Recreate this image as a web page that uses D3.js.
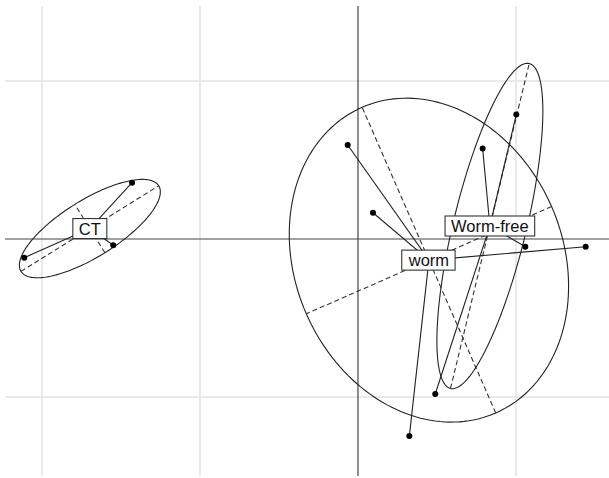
<!DOCTYPE html>
<html lang="en">
<head>
  <meta charset="UTF-8">
  <title>s.class</title>
  <script src="https://d3js.org/d3.v7.min.js"></script>
  <style>
    body { margin: 0; background: #fff; }
    .grid { stroke: #e3e3e3; stroke-width: 1.5; }
    .axis0 { stroke: #444; stroke-width: 1.2; }
    .ell { fill: none; stroke: #222; stroke-width: 1.1; }
    .ax { stroke: #333; stroke-width: 1.1; stroke-dasharray: 5 3; }
    .star { stroke: #222; stroke-width: 1.1; }
    .lab text { font-family: "Liberation Sans", Arial, sans-serif; font-size: 16.5px; fill: #111; }
    .lab rect { fill: #fff; stroke: #333; stroke-width: 1.1; }
  </style>
</head>
<body>
  <svg></svg>
  <script>
    // rows scores, one group per point
    const pointX = [-1.430, -2.112, -1.549, -0.065, 0.095, 1.441, 0.325, 0.789, 1.059, 0.489, 1.002];
    const pointY = [0.356, -0.118, -0.040, 0.595, 0.166, -0.049, -1.247, 0.572, -0.049, -0.981, 0.787];
    const pointGroup = ["CT", "CT", "CT", "worm", "worm", "worm", "worm",
      "Worm-free", "Worm-free", "Worm-free", "Worm-free"];
    const groups = ["CT", "worm", "Worm-free"];
    const gridX = [-2, -1, 1];
    const gridY = [-1, 1];
    const cellipse = 1.5;

    const width = 609, height = 478;

    const x = d3.scaleLinear().domain([-2.234, 1.595]).range([5, 610]);
    const y = d3.scaleLinear().domain([-1.506, 1.487]).range([477, 4]);

    const svg = d3.select("svg")
      .attr("width", width)
      .attr("height", height);

    // grid
    svg.append("g").selectAll("line").data(gridX).enter().append("line")
      .attr("class", "grid")
      .attr("x1", d => x(d)).attr("x2", d => x(d))
      .attr("y1", 6).attr("y2", 476);
    svg.append("g").selectAll("line").data(gridY).enter().append("line")
      .attr("class", "grid")
      .attr("y1", d => y(d)).attr("y2", d => y(d))
      .attr("x1", 5).attr("x2", 609);

    // axes through origin
    svg.append("line").attr("class", "axis0")
      .attr("x1", 5).attr("x2", 609).attr("y1", y(0)).attr("y2", y(0));
    svg.append("line").attr("class", "axis0")
      .attr("x1", x(0)).attr("x2", x(0)).attr("y1", 6).attr("y2", 476);

    const pts = pointX.map((v, i) => ({ x: v, y: pointY[i], g: pointGroup[i] }));

    // centroid + covariance ellipse for each group
    const stats = groups.map(g => {
      const p = pts.filter(d => d.g === g);
      const mx = d3.mean(p, d => d.x), my = d3.mean(p, d => d.y);
      const vx = d3.mean(p, d => (d.x - mx) ** 2);
      const vy = d3.mean(p, d => (d.y - my) ** 2);
      const cxy = d3.mean(p, d => (d.x - mx) * (d.y - my));
      const tr = vx + vy, det = vx * vy - cxy * cxy;
      const disc = Math.sqrt(Math.max(tr * tr / 4 - det, 0));
      const l1 = tr / 2 + disc, l2 = tr / 2 - disc;
      let ang = Math.abs(cxy) < 1e-12 ? (vx >= vy ? 0 : Math.PI / 2) : Math.atan2(l1 - vx, cxy);
      const a = cellipse * Math.sqrt(l1), b = cellipse * Math.sqrt(Math.max(l2, 0));
      return { g, mx, my, a, b, ang };
    });

    const ellG = svg.append("g");
    stats.forEach(s => {
      const c = Math.cos(s.ang), sn = Math.sin(s.ang);
      const ring = d3.range(0, 361, 2).map(t => {
        const r = t * Math.PI / 180;
        const u = s.a * Math.cos(r), v = s.b * Math.sin(r);
        return [x(s.mx + u * c - v * sn), y(s.my + u * sn + v * c)];
      });
      ellG.append("path").attr("class", "ell")
        .attr("d", d3.line()(ring) + "Z");
      // principal axes, dashed
      ellG.append("line").attr("class", "ax")
        .attr("x1", x(s.mx - s.a * c)).attr("y1", y(s.my - s.a * sn))
        .attr("x2", x(s.mx + s.a * c)).attr("y2", y(s.my + s.a * sn));
      ellG.append("line").attr("class", "ax")
        .attr("x1", x(s.mx + s.b * sn)).attr("y1", y(s.my - s.b * c))
        .attr("x2", x(s.mx - s.b * sn)).attr("y2", y(s.my + s.b * c));
    });

    // stars
    const cen = {};
    stats.forEach(s => cen[s.g] = s);
    svg.append("g").selectAll("line").data(pts).enter().append("line")
      .attr("class", "star")
      .attr("x1", d => x(cen[d.g].mx)).attr("y1", d => y(cen[d.g].my))
      .attr("x2", d => x(d.x)).attr("y2", d => y(d.y));

    svg.append("g").selectAll("circle").data(pts).enter().append("circle")
      .attr("cx", d => x(d.x)).attr("cy", d => y(d.y))
      .attr("r", 3).attr("fill", "#000");

    // labels at centroids
    const lab = svg.append("g").attr("class", "lab").selectAll("g")
      .data(stats).enter().append("g")
      .attr("transform", d => `translate(${x(d.mx)},${y(d.my)})`);
    lab.append("text")
      .attr("text-anchor", "middle")
      .attr("dy", "0.36em")
      .text(d => d.g);
    lab.each(function () {
      const t = d3.select(this).select("text");
      const bb = t.node().getBBox();
      d3.select(this).insert("rect", "text")
        .attr("x", bb.x - 6).attr("y", -10)
        .attr("width", bb.width + 12).attr("height", 20);
    });
  </script>
</body>
</html>
